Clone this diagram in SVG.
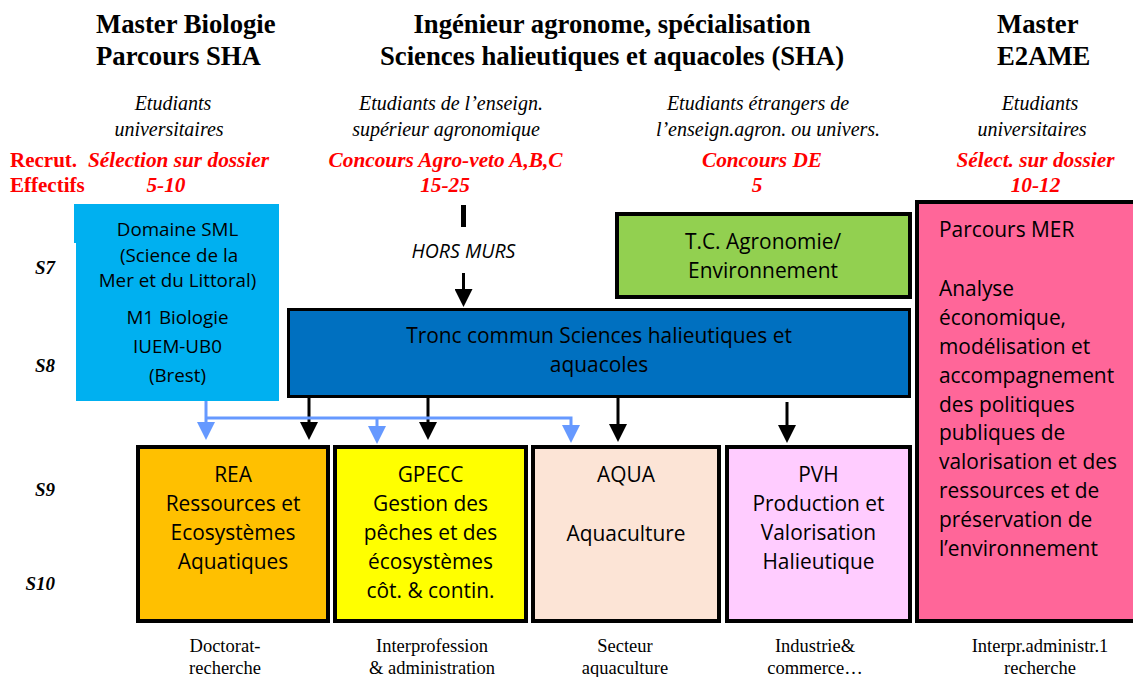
<svg xmlns="http://www.w3.org/2000/svg" width="1133" height="677" viewBox="0 0 1133 677">
<style>
.hd{font-family:"Liberation Serif","Times New Roman",serif;font-weight:bold;font-size:26.7px;fill:#000}
.it{font-family:"Liberation Serif","Times New Roman",serif;font-style:italic;font-size:20px;fill:#000}
.rd{font-family:"Liberation Serif","Times New Roman",serif;font-style:italic;font-weight:bold;font-size:21.3px;fill:#FF0000}
.rdn{font-family:"Liberation Serif","Times New Roman",serif;font-weight:bold;font-size:21px;fill:#FF0000}
.sem{font-family:"Liberation Serif","Times New Roman",serif;font-style:italic;font-weight:bold;font-size:19px;fill:#000}
.bx{font-family:"Open Sans","Liberation Sans",sans-serif;font-size:20.9px;fill:#000}
.sm{font-family:"Open Sans","Liberation Sans",sans-serif;font-size:18.8px;fill:#000}
.hm{font-family:"Open Sans","Liberation Sans",sans-serif;font-style:italic;font-size:19.5px;fill:#000}
.ft{font-family:"Liberation Serif","Times New Roman",serif;font-size:18.5px;fill:#000}
.c{text-anchor:middle}
.box{stroke:#000;stroke-width:4}
.lk{fill:none;stroke:#000;stroke-width:3}
.lb{fill:none;stroke:#6699FF;stroke-width:3}
</style>
<defs>
<marker id="hk" viewBox="0 0 18 18" refX="8" refY="9" markerWidth="18" markerHeight="18" orient="auto" markerUnits="userSpaceOnUse"><path d="M0,0 L18,9 L0,18 z" fill="#000"/></marker>
<marker id="hb" viewBox="0 0 18 18" refX="8" refY="9" markerWidth="18" markerHeight="18" orient="auto" markerUnits="userSpaceOnUse"><path d="M0,0 L18,9 L0,18 z" fill="#6699FF"/></marker>
</defs>
<rect width="1133" height="677" fill="#fff"/>

<g id="headers">
<text class="hd" x="96" y="33">Master Biologie</text>
<text class="hd" x="96" y="65">Parcours SHA</text>
<text class="hd c" x="612" y="33">Ingénieur agronome, spécialisation</text>
<text class="hd c" x="612" y="65">Sciences halieutiques et aquacoles (SHA)</text>
<text class="hd" x="997" y="33">Master</text>
<text class="hd" x="997" y="65">E2AME</text>

<text class="it c" x="173" y="110">Etudiants</text>
<text class="it c" x="169" y="136">universitaires</text>
<text class="it c" x="451" y="110">Etudiants de l’enseign.</text>
<text class="it c" x="446" y="136">supérieur agronomique</text>
<text class="it c" x="758" y="110">Etudiants étrangers de</text>
<text class="it c" x="768" y="136">l’enseign.agron. ou univers.</text>
<text class="it c" x="1040" y="110">Etudiants</text>
<text class="it c" x="1032" y="136">universitaires</text>

<text class="rdn" x="10" y="167">Recrut.</text>
<text class="rdn" x="10" y="192">Effectifs</text>
<text class="rd c" x="178.5" y="167">Sélection sur dossier</text>
<text class="rd c" x="166" y="192">5-10</text>
<text class="rd c" x="445.5" y="167">Concours Agro-veto A,B,C</text>
<text class="rd c" x="445" y="192">15-25</text>
<text class="rd c" x="762" y="167">Concours DE</text>
<text class="rd c" x="757" y="192">5</text>
<text class="rd c" x="1035.5" y="167">Sélect. sur dossier</text>
<text class="rd c" x="1035.5" y="192">10-12</text>
</g>

<g id="semesters">
<text class="sem" x="55" y="274" text-anchor="end">S7</text>
<text class="sem" x="55" y="372" text-anchor="end">S8</text>
<text class="sem" x="55" y="496" text-anchor="end">S9</text>
<text class="sem" x="55" y="590" text-anchor="end">S10</text>
</g>

<g id="node-sml">
<rect x="74" y="204" width="205" height="39" fill="#00B0F0"/>
<rect x="76" y="204" width="203" height="197" fill="#00B0F0"/>
<text class="sm c" x="177.5" y="236">Domaine SML</text>
<text class="sm c" x="179" y="262">(Science de la</text>
<text class="sm c" x="177.5" y="287">Mer et du Littoral)</text>
<text class="sm c" x="177.5" y="324">M1 Biologie</text>
<text class="sm c" x="177.5" y="353">IUEM-UB0</text>
<text class="sm c" x="177.5" y="382">(Brest)</text>
</g>

<g id="node-tc">
<rect class="box" x="617" y="214" width="293" height="83" fill="#92D050"/>
<text class="bx c" x="763" y="249">T.C. Agronomie/</text>
<text class="bx c" x="763" y="278">Environnement</text>
</g>

<g id="node-tronc">
<rect x="288.5" y="309.5" width="621" height="87" fill="#0070C0" stroke="#000" stroke-width="3"/>
<text class="bx c" x="599" y="343">Tronc commun Sciences halieutiques et</text>
<text class="bx c" x="599" y="372">aquacoles</text>
</g>

<g id="node-mer">
<rect class="box" x="917" y="202" width="220" height="419" fill="#FF6699"/>
<text class="bx" x="939" y="237">Parcours MER</text>
<text class="bx" x="939" y="296">Analyse</text>
<text class="bx" x="939" y="325">économique,</text>
<text class="bx" x="939" y="354">modélisation et</text>
<text class="bx" x="939" y="383">accompagnement</text>
<text class="bx" x="939" y="411.5">des politiques</text>
<text class="bx" x="939" y="440">publiques de</text>
<text class="bx" x="939" y="469">valorisation et des</text>
<text class="bx" x="939" y="498">ressources et de</text>
<text class="bx" x="939" y="527">préservation de</text>
<text class="bx" x="939" y="556">l’environnement</text>
</g>

<g id="node-rea">
<rect class="box" x="138" y="447" width="190" height="174" fill="#FFC000"/>
<text class="bx c" x="233" y="482">REA</text>
<text class="bx c" x="233" y="511">Ressources et</text>
<text class="bx c" x="233" y="540">Ecosystèmes</text>
<text class="bx c" x="233" y="569">Aquatiques</text>
</g>

<g id="node-gpecc">
<rect class="box" x="335" y="447" width="191" height="174" fill="#FFFF00"/>
<text class="bx c" x="430.5" y="482">GPECC</text>
<text class="bx c" x="430.5" y="511">Gestion des</text>
<text class="bx c" x="430.5" y="540">pêches et des</text>
<text class="bx c" x="430.5" y="569">écosystèmes</text>
<text class="bx c" x="430.5" y="598">côt. &amp; contin.</text>
</g>

<g id="node-aqua">
<rect class="box" x="533" y="447" width="186" height="174" fill="#FCE4D6"/>
<text class="bx c" x="626" y="482">AQUA</text>
<text class="bx c" x="626" y="541">Aquaculture</text>
</g>

<g id="node-pvh">
<rect class="box" x="727" y="447" width="183" height="174" fill="#FFCCFF"/>
<text class="bx c" x="818.5" y="482">PVH</text>
<text class="bx c" x="818.5" y="511">Production et</text>
<text class="bx c" x="818.5" y="540">Valorisation</text>
<text class="bx c" x="818.5" y="569">Halieutique</text>
</g>

<g id="connectors">
<rect x="461" y="205" width="5" height="22" fill="#000"/>
<text class="hm c" x="463.5" y="258">HORS MURS</text>
<path class="lk" d="M463.5 273 V297" marker-end="url(#hk)"/>
<path class="lk" d="M309 398 V430" marker-end="url(#hk)"/>
<path class="lk" d="M428 398 V430" marker-end="url(#hk)"/>
<path class="lk" d="M618 398 V432" marker-end="url(#hk)"/>
<path class="lk" d="M787 402 V433" marker-end="url(#hk)"/>
<path class="lb" d="M206 401 V430" marker-end="url(#hb)"/>
<path class="lb" d="M206 418 H571 V433" marker-end="url(#hb)"/>
<path class="lb" d="M377 418 V434" marker-end="url(#hb)"/>
</g>

<g id="outcomes">
<text class="ft c" x="225" y="652">Doctorat-</text>
<text class="ft c" x="225" y="674">recherche</text>
<text class="ft c" x="432" y="652">Interprofession</text>
<text class="ft c" x="432" y="674">&amp; administration</text>
<text class="ft c" x="625" y="652">Secteur</text>
<text class="ft c" x="625" y="674">aquaculture</text>
<text class="ft c" x="815" y="652">Industrie&amp;</text>
<text class="ft c" x="815" y="674">commerce…</text>
<text class="ft c" x="1040" y="652">Interpr.administr.1</text>
<text class="ft c" x="1040" y="674">recherche</text>
</g>
</svg>
